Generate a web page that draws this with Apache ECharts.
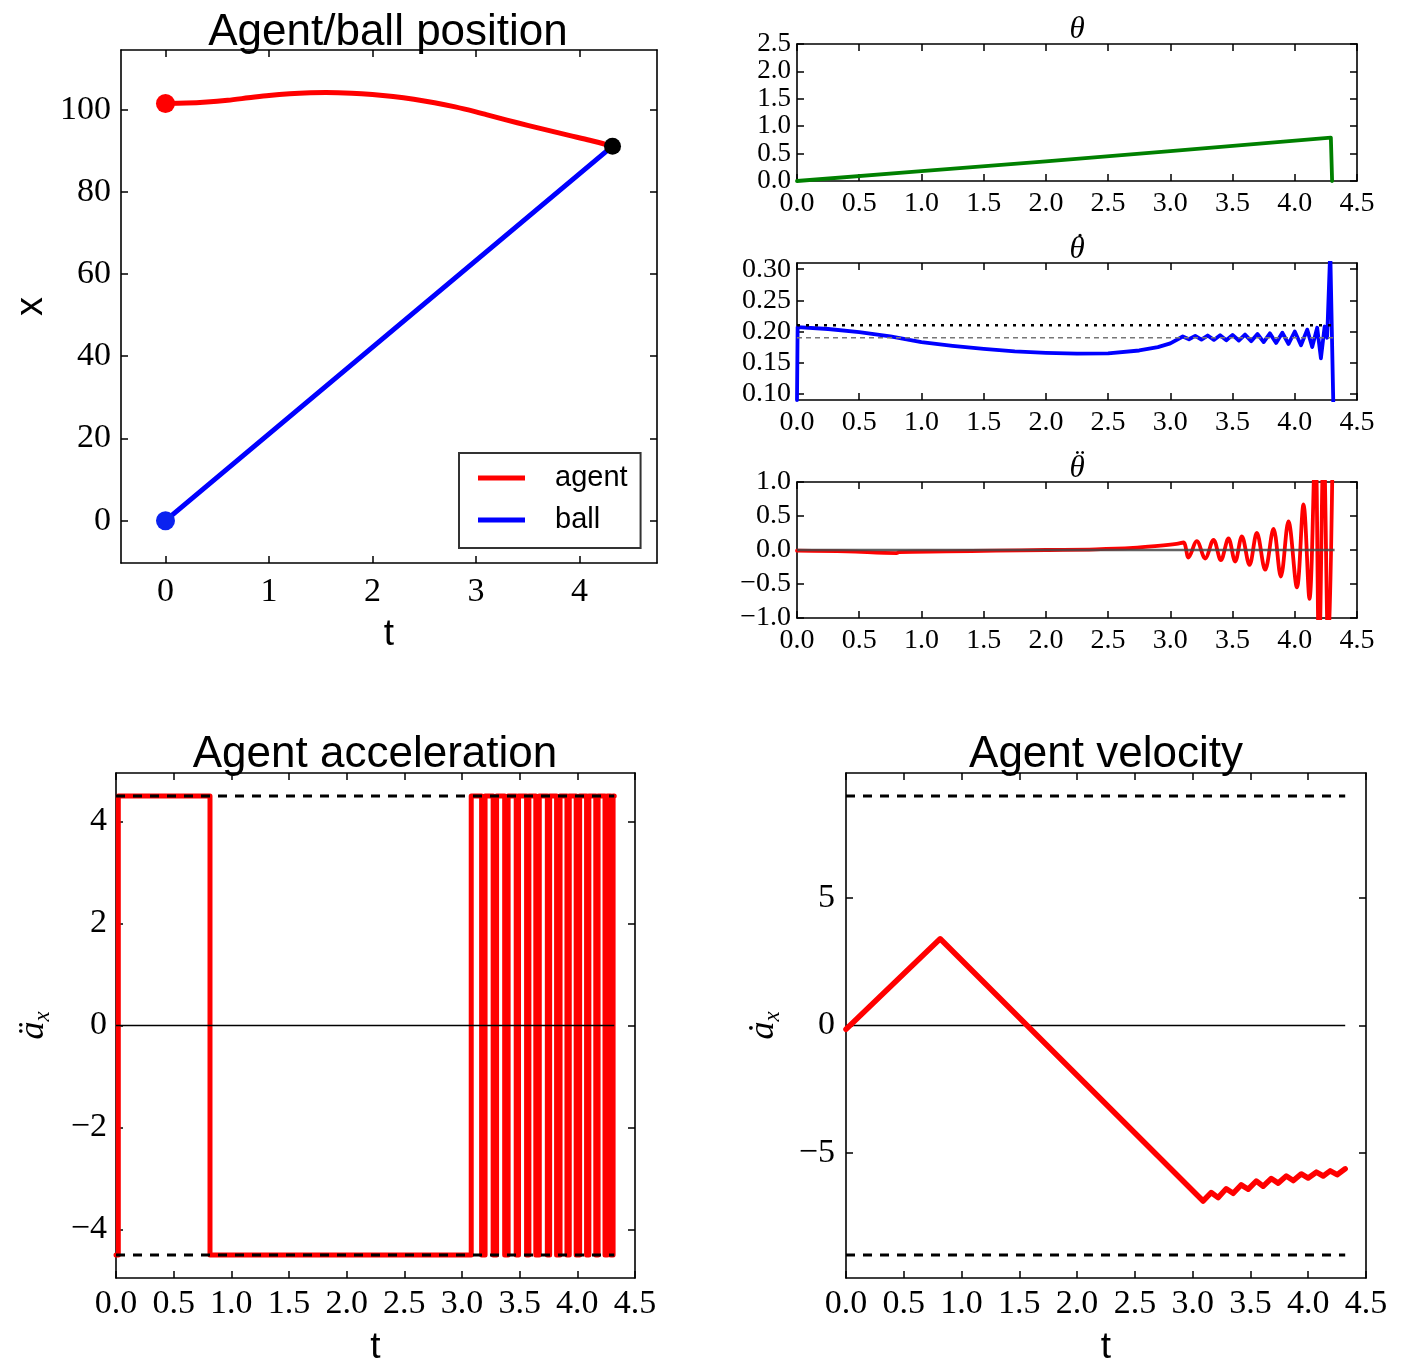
<!DOCTYPE html>
<html><head><meta charset="utf-8">
<script src="https://cdn.jsdelivr.net/npm/echarts@6/dist/echarts.min.js"></script>
<style>html,body{margin:0;padding:0;background:#fff}#c{width:1403px;height:1367px}</style>
</head><body><div id="c"></div>
<script>
// ---------------- DATA ----------------
// Agent/ball position
const agentT = [0, 0.2, 0.4, 0.6, 0.8, 1.0, 1.2, 1.4, 1.55, 1.8, 2.0, 2.2, 2.4, 2.6, 2.8, 3.0, 3.1, 3.3, 3.5, 3.7, 3.9, 4.1, 4.32];
const agentX = [101.5, 101.58, 101.84, 102.27, 102.86, 103.45, 103.86, 104.09, 104.14, 104.0, 103.69, 103.2, 102.53, 101.68, 100.65, 99.44, 98.77, 97.45, 96.17, 94.93, 93.72, 92.54, 91.1];
const ballT = [0, 4.32];
const ballX = [0, 91.1];
const posXTicks = [0, 1, 2, 3, 4];
const posYTicks = [0, 20, 40, 60, 80, 100];

// theta
const thetaT = [0, 1, 2, 3, 4.29, 4.3];
const thetaV = [0, 0.18, 0.36, 0.545, 0.79, 0];
const thetaYTicks = [0, 0.5, 1.0, 1.5, 2.0, 2.5];

// theta dot
const thetaDotT = [0, 0.005, 0.25, 0.5, 0.75, 1.0, 1.25, 1.5, 1.75, 2.0, 2.25, 2.5, 2.75, 2.9, 3.0, 3.1,
  3.15, 3.2, 3.25, 3.3, 3.35, 3.4, 3.45, 3.5, 3.55, 3.6, 3.65, 3.7, 3.75, 3.8, 3.85, 3.9, 3.95, 4.0,
  4.05, 4.1, 4.14, 4.18, 4.21, 4.24, 4.26, 4.285, 4.31];
const thetaDotV = [0.09, 0.207, 0.204, 0.199, 0.192, 0.183, 0.177, 0.172, 0.168, 0.1658, 0.1645, 0.165, 0.1695, 0.175, 0.181, 0.192,
  0.1875, 0.193, 0.187, 0.1935, 0.1865, 0.194, 0.186, 0.1945, 0.1855, 0.195, 0.1845, 0.196, 0.183, 0.197, 0.1815, 0.198, 0.18, 0.2,
  0.178, 0.203, 0.175, 0.206, 0.157, 0.208, 0.19, 0.33, 0.08];
const thetaDotUpper = 0.21;
const thetaDotRef = 0.19;
const thetaDotYTicks = [0.10, 0.15, 0.20, 0.25, 0.30];

// theta double dot
const thetaDDotT = [0, 0.4, 0.8, 0.82, 1.2, 1.6, 2.0, 2.4, 2.7, 2.9, 3.05, 3.105,
  3.146, 3.213, 3.28, 3.347, 3.406, 3.467, 3.521, 3.575, 3.636, 3.695, 3.762, 3.829, 3.888, 3.949,
  4.017, 4.07, 4.118, 4.165, 4.195, 4.232, 4.27, 4.305];
const thetaDDotV = [-0.01, -0.02, -0.045, -0.03, -0.02, -0.01, 0.0, 0.01, 0.03, 0.06, 0.09, 0.11,
  -0.11, 0.13, -0.125, 0.15, -0.15, 0.17, -0.17, 0.2, -0.22, 0.25, -0.29, 0.31, -0.39, 0.42,
  -0.55, 0.67, -0.72, 1.6, -1.6, 1.6, -1.6, 1.6];
const thetaDDotYTicks = [-1.0, -0.5, 0.0, 0.5, 1.0];

const tTicks = [0, 0.5, 1.0, 1.5, 2.0, 2.5, 3.0, 3.5, 4.0, 4.5];
const tEnd = 4.32;

// acceleration (switch times, value held from that time on)
const accelT = [0, 0.02, 0.815, 3.08, 3.17, 3.20, 3.27, 3.30, 3.37, 3.40, 3.47, 3.49, 3.56, 3.58, 3.64, 3.67,
  3.74, 3.76, 3.82, 3.85, 3.91, 3.93, 3.99, 4.02, 4.08, 4.10, 4.16, 4.18, 4.24, 4.26, 4.29, 4.31, 4.32];
const accelV = [-4.5, 4.5, -4.5, 4.5, -4.5, 4.5, -4.5, 4.5, -4.5, 4.5, -4.5, 4.5, -4.5, 4.5, -4.5, 4.5,
  -4.5, 4.5, -4.5, 4.5, -4.5, 4.5, -4.5, 4.5, -4.5, 4.5, -4.5, 4.5, -4.5, 4.5, -4.5, 4.5, 4.5];
const accelLimit = 4.5;
const accelYTicks = [-4, -2, 0, 2, 4];

// velocity
const velT = [0, 0.815, 3.09, 3.16, 3.22, 3.29, 3.35, 3.42, 3.48, 3.55, 3.61, 3.68, 3.74, 3.81, 3.87, 3.94, 4.0, 4.07, 4.13, 4.19, 4.25, 4.32];
const velV = [-0.15, 3.4, -6.88, -6.55, -6.75, -6.4, -6.58, -6.25, -6.42, -6.1, -6.3, -6.0, -6.18, -5.9, -6.08, -5.82, -5.98, -5.75, -5.9, -5.7, -5.85, -5.62];
const velLimit = 9;
const velYTicks = [-5, 0, 5];

// ---------------- CHART ----------------
const SERIF = "'Liberation Serif','DejaVu Serif',serif";
const SANS = "'Liberation Sans','Arial',sans-serif";
const zip = (a, b) => a.map((v, i) => [v, b[i]]);
const minus = s => String(s).replace('-', '\u2212');
const f0 = v => minus(Math.round(v));
const f1 = v => minus(v.toFixed(1));
const f2 = v => minus(v.toFixed(2));

const grids = [
  {left: 121, top: 50, width: 536, height: 513},
  {left: 797, top: 44, width: 560, height: 137},
  {left: 797, top: 263, width: 560, height: 137},
  {left: 797, top: 482, width: 560, height: 136},
  {left: 116, top: 773, width: 519, height: 514},
  {left: 846, top: 773, width: 520, height: 514}
];

const xAxes = [], yAxes = [];
function addAxes(list, kind, g, min, max, ticks, fmt, fs, margin, extra) {
  const common = {
    type: 'value', gridIndex: g, min: min, max: max, splitLine: {show: false},
    axisLine: {show: true, onZero: false, lineStyle: {color: '#000', width: 1.6}},
    axisTick: {show: true, inside: true, length: 7, customValues: ticks, lineStyle: {color: '#000', width: 1.5}}
  };
  list.push(Object.assign({}, common, {
    position: kind === 'x' ? 'bottom' : 'left',
    axisLabel: {show: true, customValues: ticks, formatter: fmt, fontFamily: SERIF, fontSize: fs, color: '#000',
      margin: margin, showMinLabel: true, showMaxLabel: true, hideOverlap: false}
  }, extra || {}));
  list.push(Object.assign({}, common, {position: kind === 'x' ? 'top' : 'right', axisLabel: {show: false}}));
}
const tName = (gap, fs) => ({name: 't', nameLocation: 'middle', nameGap: gap, nameTextStyle: {fontFamily: SANS, fontSize: fs, color: '#000'}});
const yRich = (txt, gap) => ({
  name: '{a|' + txt + '}{s|x}', nameLocation: 'middle', nameRotate: 90, nameGap: gap,
  nameTextStyle: {color: '#000', rich: {
    a: {fontFamily: SERIF, fontStyle: 'italic', fontSize: 36, lineHeight: 40, verticalAlign: 'middle', color: '#000'},
    s: {fontFamily: SERIF, fontStyle: 'italic', fontSize: 23, lineHeight: 22, verticalAlign: 'bottom', color: '#000'}
  }}
});

addAxes(xAxes, 'x', 0, -0.43, 4.75, posXTicks, f0, 34, 12, tName(53, 37));
addAxes(yAxes, 'y', 0, -10.3, 114.5, posYTicks, f0, 34, 10,
  {name: 'x', nameLocation: 'middle', nameRotate: 90, nameGap: 70, nameTextStyle: {fontFamily: SANS, fontSize: 38, color: '#000'}});
addAxes(xAxes, 'x', 1, 0, 4.5, tTicks, f1, 28, 9);
addAxes(yAxes, 'y', 1, 0, 2.5, thetaYTicks, f1, 27, 6);
addAxes(xAxes, 'x', 2, 0, 4.5, tTicks, f1, 28, 9);
addAxes(yAxes, 'y', 2, 0.09, 0.31, thetaDotYTicks, f2, 28, 6);
addAxes(xAxes, 'x', 3, 0, 4.5, tTicks, f1, 28, 9);
addAxes(yAxes, 'y', 3, -1, 1, thetaDDotYTicks, f1, 28, 6);
addAxes(xAxes, 'x', 4, 0, 4.5, tTicks, f1, 34, 9, tName(51, 37));
addAxes(yAxes, 'y', 4, -4.95, 4.95, accelYTicks, f0, 34, 9, yRich('\u00e4', 62));
addAxes(xAxes, 'x', 5, 0, 4.5, tTicks, f1, 34, 9, tName(51, 37));
addAxes(yAxes, 'y', 5, -9.9, 9.9, velYTicks, f0, 34, 11, yRich('\u0227', 62));

function line(g, name, data, color, width, extra) {
  return Object.assign({
    type: 'line', name: name, xAxisIndex: 2 * g, yAxisIndex: 2 * g, data: data,
    showSymbol: false, symbol: 'none', clip: true,
    lineStyle: {color: color, width: width, cap: 'round', join: 'round'},
    itemStyle: {color: color}, silent: true, z: 2
  }, extra || {});
}
function hline(g, y, color, width, dash, z) {
  return line(g, '', [[0, y], [tEnd, y]], color, width, {lineStyle: {color: color, width: width, type: dash, cap: 'butt'}, z: z || 4});
}
function dot(g, pt, color, size) {
  return {type: 'scatter', xAxisIndex: 2 * g, yAxisIndex: 2 * g, data: [pt], symbolSize: size, itemStyle: {color: color, opacity: 1}, z: 5, silent: true};
}

const series = [
  line(0, 'agent', zip(agentT, agentX), '#ff0000', 5, {smooth: 0.3}),
  line(0, 'ball', zip(ballT, ballX), '#0000ff', 5),
  dot(0, [agentT[0], agentX[0]], '#ff0000', 19),
  dot(0, [ballT[0], ballX[0]], '#0a22f0', 19),
  dot(0, [ballT[ballT.length - 1], ballX[ballX.length - 1]], '#000000', 17),

  line(1, '', zip(thetaT, thetaV), '#008000', 3.8),

  line(2, '', zip(thetaDotT, thetaDotV), '#0000ff', 3.8),
  hline(2, thetaDotUpper, '#000', 2.5, [3, 6]),
  hline(2, thetaDotRef, '#777', 1.6, [5, 4]),

  line(3, '', zip(thetaDDotT, thetaDDotV), '#ff0000', 3.8, {smooth: 0.35}),
  hline(3, 0, 'rgba(70,70,70,0.85)', 2.5, 'solid'),

  line(4, '', zip(accelT, accelV), '#ff0000', 5, {step: 'end'}),
  hline(4, accelLimit, '#000', 3, [9, 8]),
  hline(4, -accelLimit, '#000', 3, [9, 8]),
  hline(4, 0, '#000', 1.6, 'solid'),

  line(5, '', zip(velT, velV), '#ff0000', 5.5),
  hline(5, velLimit, '#000', 3, [9, 8]),
  hline(5, -velLimit, '#000', 3, [9, 8]),
  hline(5, 0, '#000', 1.6, 'solid', 1)
];

const sansTitle = {fontFamily: SANS, fontSize: 44, fontWeight: 'normal', color: '#000'};
const thetaStyle = {fontFamily: SERIF, fontStyle: 'italic', fontSize: 31, fontWeight: 'normal', color: '#000'};
const dotStyle = {fontFamily: SERIF, fontSize: 30, fontWeight: 'normal', color: '#000'};
const titles = [
  {text: 'Agent/ball position', left: 388, top: 11, textAlign: 'center', padding: 0, textStyle: sansTitle},
  {text: '\u03b8', left: 1077, top: 14, textAlign: 'center', padding: 0, textStyle: thetaStyle},
  {text: '\u03b8', left: 1077, top: 234, textAlign: 'center', padding: 0, textStyle: thetaStyle},
  {text: '\u02d9', left: 1080, top: 231, textAlign: 'center', padding: 0, textStyle: dotStyle},
  {text: '\u03b8', left: 1077, top: 453, textAlign: 'center', padding: 0, textStyle: thetaStyle},
  {text: '\u00a8', left: 1080, top: 447, textAlign: 'center', padding: 0, textStyle: dotStyle},
  {text: 'Agent acceleration', left: 375, top: 733, textAlign: 'center', padding: 0, textStyle: sansTitle},
  {text: 'Agent velocity', left: 1106, top: 733, textAlign: 'center', padding: 0, textStyle: sansTitle}
];

const chart = echarts.init(document.getElementById('c'), null, {renderer: 'canvas'});
chart.setOption({
  backgroundColor: '#fff',
  animation: false,
  title: titles,
  grid: grids,
  xAxis: xAxes,
  yAxis: yAxes,
  legend: {
    data: ['agent', 'ball'], orient: 'vertical', left: 459, top: 453,
    icon: 'rect', itemWidth: 47, itemHeight: 5, itemGap: 10,
    padding: [9, 13, 12, 19], borderColor: '#333', borderWidth: 2, backgroundColor: '#fff',
    textStyle: {fontFamily: SANS, fontSize: 29, color: '#000', lineHeight: 32, padding: [0, 0, 0, 25]},
    selectedMode: false
  },
  series: series
});
</script></body></html>
